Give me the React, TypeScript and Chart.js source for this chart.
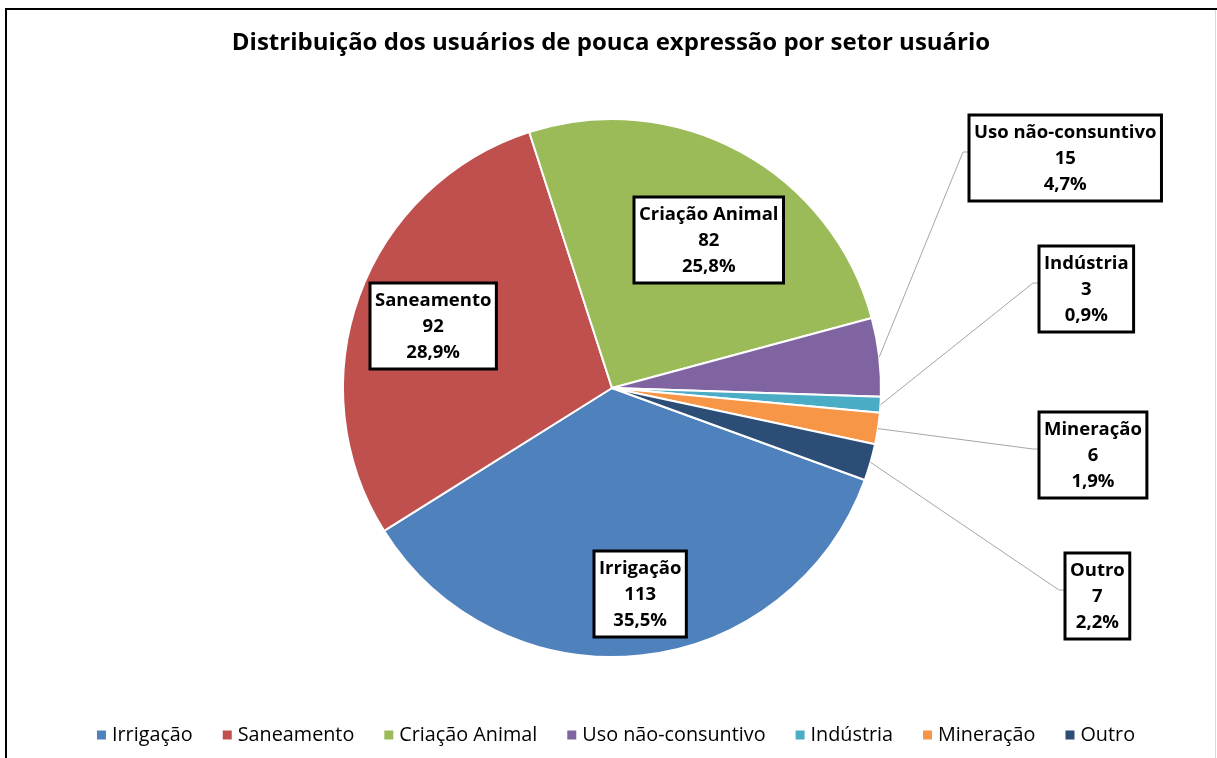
import React, { useEffect, useRef } from "react";
import { Chart, registerables } from "chart.js";

Chart.register(...registerables);

const TITLE = "Distribuição dos usuários de pouca expressão por setor usuário";
const categories = [
  "Irrigação",
  "Saneamento",
  "Criação Animal",
  "Uso não-consuntivo",
  "Indústria",
  "Mineração",
  "Outro",
];
const counts = [113, 92, 82, 15, 3, 6, 7];
const colors = ["#4F81BD", "#C0504D", "#9BBB59", "#8064A2", "#4BACC6", "#F79646", "#2C4D75"];

// label box centre offsets from the pie centre (px) and whether the label sits outside
const labelOffsets: [number, number][] = [
  [28, 206],
  [-179, -62],
  [97, -148],
  [453, -230],
  [474, -99],
  [481, 67],
  [485, 208],
];
const labelOutside = [false, false, false, true, true, true, true];

const W = 1217;
const H = 758;
const FONT = "'Open Sans', Lato, sans-serif";

const pct = (v: number) => {
  const total = counts.reduce((a, b) => a + b, 0);
  return ((v / total) * 100).toFixed(1).replace(".", ",") + "%";
};

const framePlugin = {
  id: "frame",
  beforeDraw(chart: any) {
    const ctx = chart.ctx as CanvasRenderingContext2D;
    ctx.save();
    ctx.fillStyle = "#ffffff";
    ctx.fillRect(0, 0, W, H);
    ctx.strokeStyle = "#000000";
    ctx.lineWidth = 2;
    ctx.beginPath();
    ctx.moveTo(5, 9);
    ctx.lineTo(W, 9);
    ctx.moveTo(6, 8);
    ctx.lineTo(6, H);
    ctx.stroke();
    ctx.strokeStyle = "#D9D9D9";
    ctx.lineWidth = 1;
    ctx.beginPath();
    ctx.moveTo(W - 1.5, 10);
    ctx.lineTo(W - 1.5, H);
    ctx.stroke();
    ctx.restore();
  },
  afterDraw(chart: any) {
    const ctx = chart.ctx as CanvasRenderingContext2D;
    ctx.save();
    // title
    ctx.fillStyle = "#000000";
    ctx.font = `bold 24px ${FONT}`;
    ctx.textAlign = "center";
    ctx.textBaseline = "middle";
    ctx.fillText(TITLE, 611, 43);

    // legend
    ctx.font = `19.8px ${FONT}`;
    ctx.textAlign = "left";
    const box = 9;
    const gapText = 6;
    const gapItem = 30;
    const widths = categories.map((c) => ctx.measureText(c).width);
    const total =
      widths.reduce((a, b) => a + b, 0) + categories.length * (box + gapText) + (categories.length - 1) * gapItem;
    let x = 616 - total / 2;
    const ly = 735;
    categories.forEach((c, i) => {
      ctx.fillStyle = colors[i];
      ctx.fillRect(x, ly - box / 2, box, box);
      ctx.fillStyle = "#000000";
      ctx.fillText(c, x + box + gapText, ly);
      x += box + gapText + widths[i] + gapItem;
    });
    ctx.restore();
  },
};

const labelPlugin = {
  id: "boxLabels",
  afterDatasetsDraw(chart: any) {
    const ctx = chart.ctx as CanvasRenderingContext2D;
    const meta = chart.getDatasetMeta(0);
    ctx.save();
    ctx.font = `bold 18.5px ${FONT}`;
    const lineH = 26;
    const padX = 5;
    const padY = 4;
    meta.data.forEach((arc: any, i: number) => {
      const p = arc.getProps(["x", "y", "startAngle", "endAngle", "outerRadius"], true);
      const mid = (p.startAngle + p.endAngle) / 2;
      const cx = p.x + labelOffsets[i][0];
      const cy = p.y + labelOffsets[i][1];
      const lines = [categories[i], String(counts[i]), pct(counts[i])];
      const w = Math.max(...lines.map((l) => ctx.measureText(l).width)) + padX * 2;
      const h = lineH * lines.length + padY * 2;
      const left = Math.round(cx - w / 2);
      const top = Math.round(cy - h / 2);
      if (labelOutside[i]) {
        const ax = p.x + Math.cos(mid) * p.outerRadius;
        const ay = p.y + Math.sin(mid) * p.outerRadius;
        ctx.strokeStyle = "#A6A6A6";
        ctx.lineWidth = 1;
        ctx.beginPath();
        ctx.moveTo(ax, ay);
        ctx.lineTo(left - 6, cy - 6);
        ctx.lineTo(left, cy - 6);
        ctx.stroke();
      }
      ctx.fillStyle = "#ffffff";
      ctx.fillRect(left, top, w, h);
      ctx.strokeStyle = "#000000";
      ctx.lineWidth = 3;
      ctx.strokeRect(left, top, w, h);
      ctx.fillStyle = "#000000";
      ctx.textAlign = "center";
      ctx.textBaseline = "middle";
      lines.forEach((l, k) => {
        ctx.fillText(l, left + w / 2, top + padY + lineH * k + lineH / 2 + 1);
      });
    });
    ctx.restore();
  },
};

export default function App() {
  const ref = useRef<HTMLCanvasElement | null>(null);
  useEffect(() => {
    if (!ref.current) return;
    const chart = new Chart(ref.current, {
      type: "pie",
      data: {
        labels: categories,
        datasets: [
          {
            data: counts,
            backgroundColor: colors,
            borderColor: "#ffffff",
            borderWidth: 2,
          },
        ],
      },
      options: {
        responsive: false,
        animation: false,
        events: [],
        rotation: 110,
        radius: 269,
        layout: { padding: { left: 343, right: 336, top: 119, bottom: 101 } },
        plugins: {
          legend: { display: false },
          title: { display: false },
          tooltip: { enabled: false },
        },
      },
      plugins: [framePlugin, labelPlugin],
    });
    return () => chart.destroy();
  }, []);
  return (
    <div style={{ position: "absolute", left: 0, top: 0, width: W, height: H }}>
      <canvas ref={ref} width={W} height={H} style={{ display: "block", width: W, height: H }} />
    </div>
  );
}
